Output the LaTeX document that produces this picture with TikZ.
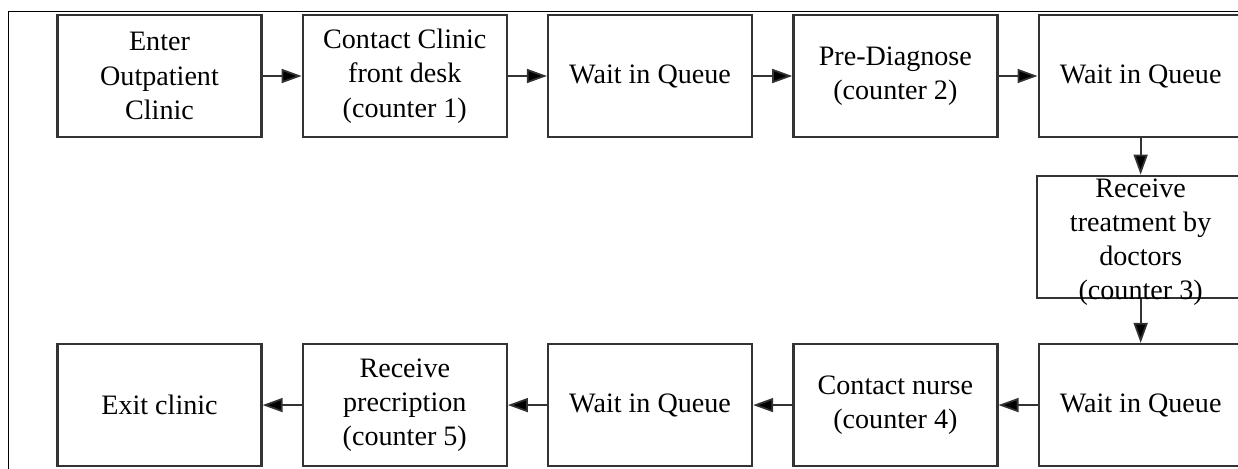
\documentclass[tikz,border=0pt]{standalone}
\usepackage{fontspec}
\setmainfont{Liberation Serif}
\usetikzlibrary{positioning, arrows.meta}

\begin{document}
\begin{tikzpicture}[
                  node distance=0.78cm,
                  every node/.style={font=\fontsize{16}{19.5}\selectfont},
                  stage/.style={rectangle, draw=black!80, line width=1.3pt, minimum width=4.08cm, minimum height=2.44cm, inner sep=2pt, align=center},
                  arrow/.style={line width=1pt, draw=black!80, -{Triangle[length=0.4cm, width=0.28cm, fill=black]}}
            ]
            \useasboundingbox (0,0) rectangle (24.76,-9.38);

            % Frame
            \draw[line width=0.5pt] (0.16,-9.38) |- (24.76,-0.22);

            % Nodes, top row
            \node (enter) [stage] at (3.19,-1.52) {Enter\\Outpatient\\Clinic};
            \node (desk) [stage, right=of enter] {Contact Clinic\\front desk\\(counter 1)};
            \node (queueA) [stage, right=of desk] {Wait in Queue};
            \node (diagnose) [stage, right=of queueA] {Pre-Diagnose\\(counter 2)};
            \node (queueB) [stage, right=of diagnose] {Wait in Queue};

            % Right column
            \node (treat) [stage, below=0.73cm of queueB] {\smash{\raisebox{-0.26cm}{\parbox[c]{4cm}{\centering Receive\\treatment by\\doctors\\(counter 3)}}}};
            \node (queueC) [stage, below=0.88cm of treat] {Wait in Queue};

            % Nodes, bottom row
            \node (nurse) [stage, left=of queueC] {Contact nurse\\(counter 4)};
            \node (queueD) [stage, left=of nurse] {Wait in Queue};
            \node (prescr) [stage, left=of queueD] {Receive\\precription\\(counter 5)};
            \node (exit) [stage, left=of prescr] {Exit clinic};

            % Arrows
            \draw [arrow] (enter) -- (desk);
            \draw [arrow] (desk) -- (queueA);
            \draw [arrow] (queueA) -- (diagnose);
            \draw [arrow] (diagnose) -- (queueB);
            \draw [arrow] (queueB) -- (treat);
            \draw [arrow] (treat) -- (queueC);
            \draw [arrow] (queueC) -- (nurse);
            \draw [arrow] (nurse) -- (queueD);
            \draw [arrow] (queueD) -- (prescr);
            \draw [arrow] (prescr) -- (exit);

      \end{tikzpicture}
\end{document}
